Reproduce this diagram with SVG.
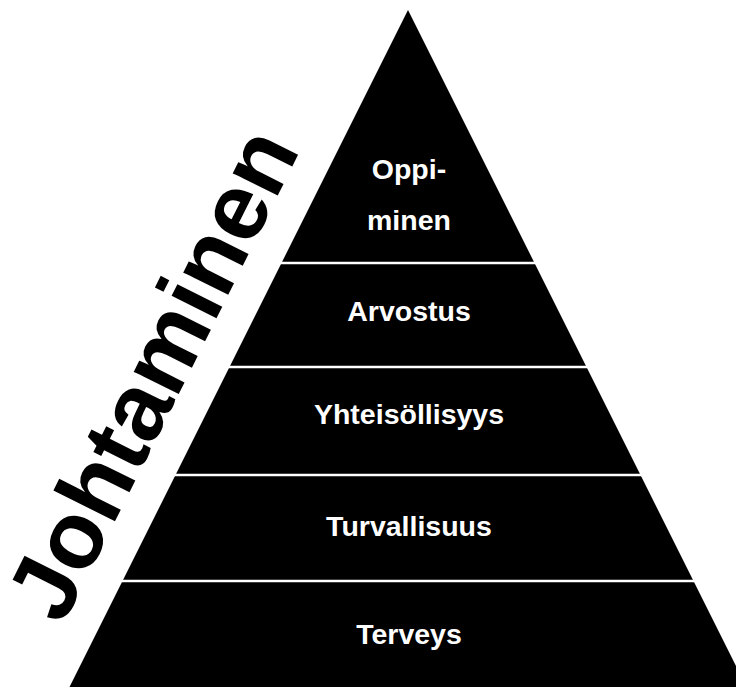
<svg xmlns="http://www.w3.org/2000/svg" width="736" height="687" viewBox="0 0 736 687">
<style>
.lvl{fill:#000}
.sep{stroke:#fff;stroke-width:2.5}
.lbl{font-family:"Liberation Sans",Arial,sans-serif;font-weight:bold;font-size:28.5px;fill:#fff;text-anchor:middle}
.side{font-family:"Liberation Sans",Arial,sans-serif;font-weight:bold;font-size:95px;fill:#000}
</style>
<rect width="736" height="687" fill="#fff"/>
<g id="pyramid">
<polygon class="lvl" points="408,10 746.5,687 69.5,687"/>
</g>
<g id="connectors">
<line class="sep" x1="280" y1="263" x2="536" y2="263"/>
<line class="sep" x1="228" y1="367" x2="588" y2="367"/>
<line class="sep" x1="174" y1="475" x2="642" y2="475"/>
<line class="sep" x1="121" y1="581" x2="695" y2="581"/>
</g>
<g id="oppiminen"><text class="lbl" x="409" y="179">Oppi-</text><text class="lbl" x="409" y="230">minen</text></g>
<g id="arvostus"><text class="lbl" x="409" y="321">Arvostus</text></g>
<g id="yhteisollisyys"><text class="lbl" x="409" y="424">Yhteisöllisyys</text></g>
<g id="turvallisuus"><text class="lbl" x="409" y="536">Turvallisuus</text></g>
<g id="terveys"><text class="lbl" x="409" y="644">Terveys</text></g>
<g id="johtaminen"><text class="side" transform="translate(62.3,626.5) rotate(-63.43)" x="0" y="0">Johtaminen</text></g>
</svg>
